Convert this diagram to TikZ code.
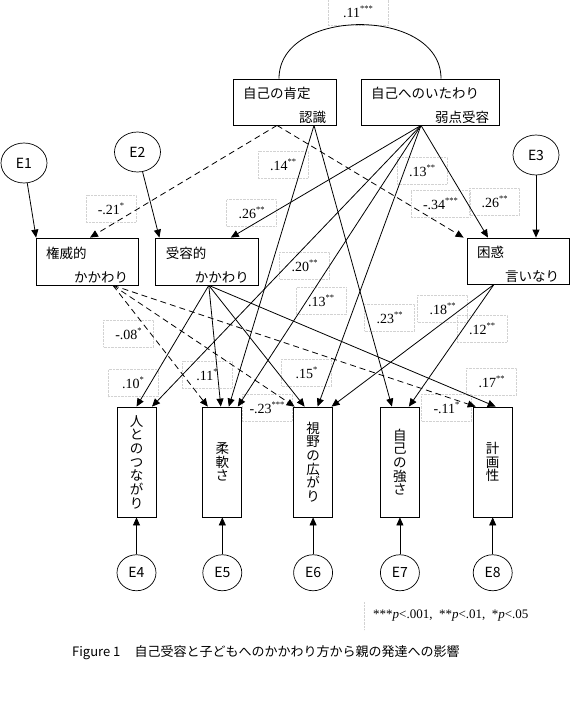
\documentclass[tikz,border=0pt]{standalone}
\usepackage{fontspec}
\setmainfont{Noto Sans CJK JP}
\newfontfamily\numfont{Liberation Serif}
\usetikzlibrary{shapes.geometric,arrows.meta,positioning}

\newcommand{\sig}[1]{\raisebox{0.42em}{\fontsize{8.5}{9}\selectfont #1}}
\newcommand{\topstrut}{\rule{0pt}{18pt}}

\begin{document}
\begin{tikzpicture}[
    x=1pt, y=-1pt,
    font=\fontsize{13.5}{15}\selectfont,
    factor/.style={rectangle, draw, line width=0.8pt, inner xsep=10pt, inner ysep=0pt, align=left},
    vbox/.style={rectangle, draw, line width=0.8pt, minimum width=39pt, minimum height=110pt, inner sep=0pt, align=center, font=\fontsize{13.5}{13.7}\selectfont},
    err/.style={ellipse, draw, line width=0.7pt, inner sep=0pt, minimum width=39pt, minimum height=36pt, font=\fontsize{14}{16}\selectfont},
    coef/.style={draw=gray!35, densely dotted, minimum width=50pt, minimum height=27pt, inner sep=0pt, font=\numfont\fontsize{14}{16}\selectfont},
    eff/.style={-{Triangle[length=8pt,width=7pt]}, line width=0.8pt},
    negeff/.style={eff, dash pattern=on 6pt off 4pt}
]
\useasboundingbox (0,0) rectangle (580,703);

% coefficient boxes
\node[coef, minimum width=60pt] (ckk) at (358,12) {.11\sig{***}};
\node[coef] (c-kotei-kenni) at (111,208.5) {-.21\sig{*}};
\node[coef] (c-kotei-junan) at (283,164.5) {.14\sig{**}};
\node[coef] (c-ita-juyo) at (251.5,213) {.26\sig{**}};
\node[coef] (c-ita-hito) at (422,170.5) {.13\sig{**}};
\node[coef, minimum width=59pt] (c-kotei-konwaku) at (440.5,203.5) {-.34\sig{***}};
\node[coef] (c-ita-konwaku) at (494.5,201.5) {.26\sig{**}};
\node[coef] (c-ita-junan) at (304.5,265.5) {.20\sig{**}};
\node[coef] (c-ita-shiya) at (321,301) {.13\sig{**}};
\node[coef] (c-kotei-tsuyosa) at (389.5,317.5) {.23\sig{**}};
\node[coef] (c-konwaku-shiya) at (442.5,308.5) {.18\sig{**}};
\node[coef] (c-konwaku-tsuyosa) at (482,328.5) {.12\sig{**}};
\node[coef] (c-kenni-junan) at (128.5,333.5) {-.08\sig{*}};
\node[coef] (c-juyo-hito) at (133,383) {.10\sig{*}};
\node[coef] (c-juyo-junan) at (207,374.5) {.11\sig{*}};
\node[coef] (c-juyo-shiya) at (306.5,372.5) {.15\sig{*}};
\node[coef] (c-kenni-shiya) at (267,407.5) {-.23\sig{***}};
\node[coef] (c-kenni-keikaku) at (446.5,407.5) {-.11\sig{*}};
\node[coef] (c-juyo-keikaku) at (491.5,381.5) {.17\sig{**}};

% self-acceptance
\node[factor, minimum width=103pt, text width=83pt, minimum height=46pt] (kotei) at (284.5,102) {\topstrut 自己の肯定\\[9pt]\hspace*{\fill}認識};
\node[factor, minimum width=138pt, text width=118pt, minimum height=46pt] (itawari) at (430,102) {\topstrut 自己へのいたわり\\[9pt]\hspace*{\fill}弱点受容};

% parenting
\node[factor, minimum width=102pt, text width=82pt, minimum height=47pt] (kenni) at (87,261.5) {\topstrut 権威的\\[9pt]\hspace*{\fill}かかわり};
\node[factor, minimum width=103pt, text width=83pt, minimum height=47pt, right=17pt of kenni] (juyo) {\topstrut 受容的\\[9pt]\hspace*{\fill}かかわり};
\node[factor, minimum width=102pt, text width=82pt, minimum height=46pt] (konwaku) at (518,261) {\topstrut 困惑\\[9pt]\hspace*{\fill}言いなり};

% parent development
\node[vbox] (hito) at (136.5,462) {人\\と\\の\\つ\\な\\が\\り};
\node[vbox, right=46pt of hito] (junan) {柔\\軟\\さ};
\node[vbox, right=51pt of junan] (shiya) {視\\野\\の\\広\\が\\り};
\node[vbox, right=47pt of shiya] (tsuyosa) {自\\己\\の\\強\\さ};
\node[vbox, right=53pt of tsuyosa] (keikaku) {計\\画\\性};

% errors
\node[err, minimum width=46pt, minimum height=40pt] (e1) at (24,163) {E1};
\node[err, minimum width=46pt, minimum height=40pt] (e2) at (137.5,152) {E2};
\node[err, minimum width=46pt, minimum height=40pt] (e3) at (536,155) {E3};
\node[err, below=37pt of hito] (e4) {E4};
\node[err, below=37pt of junan] (e5) {E5};
\node[err, below=37pt of shiya] (e6) {E6};
\node[err, below=37pt of tsuyosa] (e7) {E7};
\node[err, below=37pt of keikaku] (e8) {E8};

% covariance
\draw[line width=0.8pt] ([xshift=-5.5pt]kotei.north) .. controls +(0,-72) and +(0,-72) .. ([xshift=11pt]itawari.north);

% self-acceptance -> parenting / development
\draw[negeff] ([xshift=-7.5pt]kotei.south) -- ([xshift=3pt]kenni.north);
\draw[negeff] ([xshift=-7.5pt]kotei.south) -- ([xshift=-3pt]konwaku.north west);
\draw[eff] ([xshift=29.5pt]kotei.south) -- ([xshift=6.5pt]junan.north);
\draw[eff] ([xshift=29.5pt]kotei.south) -- ([xshift=-8pt]tsuyosa.north);
\draw[eff] ([xshift=-9pt]itawari.south) -- ([xshift=23.5pt]juyo.north);
\draw[eff] ([xshift=-9pt]itawari.south) -- ([xshift=-30pt]konwaku.north);
\draw[eff] ([xshift=-9pt]itawari.south) -- ([xshift=15.5pt]hito.north);
\draw[eff] ([xshift=-9pt]itawari.south) -- ([xshift=15.5pt]junan.north);
\draw[eff] ([xshift=-9pt]itawari.south) -- ([xshift=4.5pt]shiya.north);

% parenting -> development
\draw[eff] ([xshift=1.5pt]juyo.south) -- (hito.north);
\draw[eff] ([xshift=1.5pt]juyo.south) -- ([xshift=-1.5pt]junan.north);
\draw[eff] ([xshift=1.5pt]juyo.south) -- ([xshift=-8.5pt]shiya.north);
\draw[eff] ([xshift=1.5pt]juyo.south) -- ([xshift=3pt]keikaku.north);
\draw[negeff] ([xshift=26pt]kenni.south) -- ([xshift=-14.5pt]junan.north);
\draw[negeff] ([xshift=26pt]kenni.south) -- ([xshift=-18.5pt]shiya.north);
\draw[negeff] ([xshift=26pt]kenni.south) -- ([xshift=-17pt]keikaku.north);
\draw[eff] ([xshift=-24pt]konwaku.south) -- ([xshift=18.5pt]shiya.north);
\draw[eff] ([xshift=-24pt]konwaku.south) -- ([xshift=9pt]tsuyosa.north);

% error terms
\draw[eff] (e1) -- ([xshift=0.5pt]kenni.north west);
\draw[eff] (e2) -- ([xshift=4pt]juyo.north west);
\draw[eff] (e3) -- ([xshift=18pt]konwaku.north);
\draw[eff] (e4) -- (hito);
\draw[eff] (e5) -- (junan);
\draw[eff] (e6) -- (shiya);
\draw[eff] (e7) -- (tsuyosa);
\draw[eff] (e8) -- (keikaku);

% note and caption
\node[anchor=west, inner sep=0pt, font=\numfont\fontsize{13}{15}\selectfont] (note) at (373,616) {***\textit{p}<.001,\enspace **\textit{p}<.01,\enspace *\textit{p}<.05};
\draw[gray!35, densely dotted] ([xshift=-9pt,yshift=14pt]note.west) -- ([xshift=-9pt,yshift=-14pt]note.west);
\node[anchor=west, inner sep=0pt, font=\fontsize{13}{15}\selectfont] (caption) at (72,653) {Figure 1\hspace{1.1em}自己受容と子どもへのかかわり方から親の発達への影響};
\end{tikzpicture}
\end{document}
